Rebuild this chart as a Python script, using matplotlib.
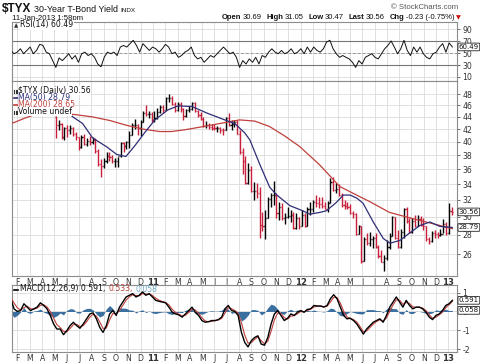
import numpy as np
import pandas as pd
import matplotlib
matplotlib.use('Agg')
import matplotlib.pyplot as plt
from matplotlib.collections import LineCollection
from matplotlib.lines import Line2D
from matplotlib.ticker import FixedLocator, FixedFormatter, NullLocator

# ---------------- data ----------------
week_start = '2010-05-07'          # weekly bars (Friday), $TYX x10
price_open_first = 44.0
price_high = [44.2, 43.4, 43.0, 42.4, 42.6, 42.6, 42.4, 41.6, 40.8, 41.0,
              41.2, 40.6, 40.9, 40.8, 40.6, 38.9, 37.4, 37.6, 38.4, 38.4,
              38.0, 37.6, 37.8, 39.9, 40.0, 40.1, 41.7, 43.0, 43.6, 42.9,
              43.4, 45.0, 46.0, 45.0, 44.8, 45.0, 45.5, 46.0, 46.1, 47.5,
              48.0, 47.6, 46.6, 46.6, 46.6, 45.6, 45.4, 45.9, 46.6, 46.6,
              45.2, 44.9, 44.0, 43.3, 43.0, 42.8, 42.9, 42.5, 42.4, 42.2,
              44.0, 44.6, 43.4, 43.4, 43.5, 41.8, 39.0, 37.9, 36.8, 36.4,
              34.3, 34.2, 33.6, 30.6, 30.8, 32.4, 32.8, 34.4, 32.8, 31.8,
              31.6, 30.4, 31.2, 30.8, 30.6, 30.4, 30.0, 30.8, 30.4, 31.2,
              31.8, 32.0, 32.6, 32.4, 32.3, 31.8, 31.9, 34.8, 35.0, 34.2,
              34.0, 32.8, 32.0, 31.8, 31.5, 30.7, 30.4, 29.1, 29.0, 27.8,
              28.2, 28.3, 27.9, 28.2, 26.9, 26.4, 25.9, 27.4, 28.2, 30.1,
              30.0, 28.5, 28.6, 31.0, 31.1, 29.8, 29.8, 30.2, 30.2, 30.1,
              29.8, 29.0, 27.8, 28.4, 28.5, 28.3, 28.6, 29.7, 29.4, 31.6, 31.1]
price_low = [40.6, 41.8, 40.4, 40.2, 40.8, 41.2, 40.9, 40.3, 38.8, 39.0,
             39.5, 39.4, 39.5, 39.6, 38.3, 36.4, 35.0, 36.2, 36.9, 37.2,
             36.9, 36.3, 36.3, 37.8, 38.5, 38.9, 39.1, 41.0, 42.0, 41.0,
             40.9, 43.2, 44.2, 43.8, 43.2, 43.2, 43.7, 44.6, 44.6, 45.1,
             46.6, 46.0, 44.8, 45.0, 44.8, 43.5, 44.0, 44.9, 45.2, 44.8,
             44.0, 43.5, 42.3, 42.2, 42.0, 41.9, 41.8, 41.6, 41.4, 41.0,
             41.8, 42.5, 41.9, 42.3, 41.2, 38.2, 35.4, 34.0, 34.0, 33.0,
             32.0, 32.2, 27.7, 28.4, 27.5, 29.8, 31.2, 31.4, 29.8, 29.6,
             29.6, 29.2, 29.8, 29.4, 28.6, 28.6, 28.6, 28.9, 28.8, 28.9,
             30.2, 30.6, 31.2, 31.0, 31.0, 30.9, 30.5, 31.6, 33.1, 32.8,
             32.5, 31.2, 30.9, 30.9, 30.3, 29.9, 28.0, 28.1, 25.1, 25.3,
             26.9, 26.8, 26.6, 26.6, 25.6, 25.2, 24.4, 25.4, 26.5, 27.9,
             27.5, 26.6, 26.6, 27.6, 29.3, 28.2, 28.2, 28.8, 28.9, 29.0,
             28.5, 27.3, 27.0, 27.2, 27.6, 27.7, 27.9, 28.2, 28.0, 28.1, 30.2]
price_close = [42.7, 42.8, 40.8, 42.2, 41.8, 42.2, 41.2, 40.7, 39.2, 40.8,
               39.7, 40.1, 39.9, 40.3, 38.6, 36.7, 36.5, 37.1, 37.9, 37.8,
               37.1, 37.1, 37.9, 39.8, 39.3, 39.9, 41.0, 42.7, 42.7, 42.2,
               43.2, 44.6, 44.5, 44.5, 43.4, 43.8, 44.8, 45.7, 45.1, 47.4,
               47.4, 46.2, 45.1, 46.2, 45.4, 44.1, 45.1, 45.4, 46.5, 45.0,
               44.4, 43.6, 42.5, 42.7, 42.4, 42.2, 42.1, 42.1, 41.9, 41.8,
               43.8, 42.7, 42.8, 43.2, 41.2, 38.5, 37.2, 34.2, 35.9, 33.1,
               33.1, 32.8, 29.1, 29.0, 29.9, 32.1, 32.6, 32.6, 30.4, 31.2,
               29.8, 30.0, 30.1, 30.2, 28.7, 29.9, 28.9, 30.2, 28.9, 30.9,
               30.9, 31.8, 31.6, 31.5, 31.3, 30.9, 31.6, 34.3, 33.3, 33.4,
               32.6, 31.4, 31.3, 31.2, 30.4, 30.3, 28.1, 28.9, 25.3, 27.5,
               27.1, 27.5, 27.6, 26.7, 25.8, 25.2, 25.6, 26.7, 27.9, 30.0,
               27.7, 26.7, 28.3, 30.9, 29.5, 28.3, 29.5, 29.0, 29.7, 29.1,
               28.9, 27.5, 27.3, 28.2, 28.1, 28.0, 28.1, 29.2, 28.2, 30.7, 30.56]

ma50_dates = ['2010-05-24', '2010-06-16', '2010-07-10', '2010-08-04', '2010-09-09',
              '2010-10-03', '2010-10-26', '2010-11-17', '2010-12-11', '2011-01-06',
              '2011-02-07', '2011-03-02', '2011-04-06', '2011-05-15', '2011-06-26',
              '2011-07-21', '2011-08-15', '2011-08-28', '2011-09-22', '2011-10-16',
              '2011-11-03', '2011-12-05', '2012-01-06', '2012-01-24', '2012-02-17',
              '2012-03-04', '2012-03-29', '2012-04-15', '2012-05-02', '2012-05-19',
              '2012-06-03', '2012-06-28', '2012-07-23', '2012-08-09', '2012-09-03',
              '2012-09-21', '2012-10-22', '2012-11-16', '2012-12-11', '2013-01-11']
ma50_vals = [45.5, 44.0, 42.9, 40.6, 39.2, 38.1, 37.8, 39.4, 41.4, 43.5,
             45.2, 45.9, 45.8, 44.6, 43.5, 42.9, 41.4, 40.3, 36.6, 33.6,
             32.6, 31.3, 30.7, 30.3, 30.5, 30.7, 31.7, 32.6, 32.6, 32.2,
             31.6, 29.4, 27.6, 27.1, 27.4, 28.0, 29.0, 29.4, 28.9, 28.79]

ma200_dates = ['2010-01-17', '2010-02-18', '2010-03-18', '2010-05-02', '2010-06-21',
               '2010-08-04', '2010-09-16', '2010-10-28', '2010-12-06', '2011-01-18',
               '2011-02-15', '2011-03-21', '2011-04-25', '2011-06-14', '2011-08-02',
               '2011-09-09', '2011-10-16', '2011-11-22', '2011-12-29', '2012-02-17',
               '2012-04-06', '2012-05-18', '2012-06-19', '2012-08-08', '2012-10-11',
               '2012-12-03', '2013-01-11']
ma200_vals = [42.9, 43.8, 44.5, 44.6, 44.4, 44.0, 43.4, 42.6, 42.0, 41.6,
              41.6, 41.9, 42.3, 42.9, 43.5, 43.3, 42.4, 40.9, 39.3, 36.6,
              33.7, 32.6, 31.8, 30.5, 29.7, 29.1, 28.65]

osc_start = '2010-01-15'
osc_end = '2013-01-11'
rsi_vals = [54.6, 49, 51.7, 57.4, 49, 54.6, 60.3, 49, 54.6, 64.9,
            63, 51.7, 49, 37.4, 26, 42, 37.4, 43, 49, 40,
            46, 34.6, 49, 51.7, 46, 49, 43, 31.7, 27, 43,
            51.7, 49, 51.7, 46, 60.3, 63, 60.3, 66, 71.7, 63,
            51.7, 66, 60.3, 54.6, 60.3, 57.4, 51.7, 57.4, 64.9, 60.3,
            49, 51.7, 43, 46, 51.7, 54.6, 60.3, 46, 40.3, 43,
            34.6, 40.3, 46, 43, 49, 54.6, 60.3, 54.6, 49, 51.7,
            43, 26, 37.4, 31.7, 40.3, 34.6, 43, 31.7, 46, 43,
            51.7, 57.4, 51.7, 49, 54.6, 49, 51.7, 57.4, 49, 51.7,
            57.4, 49, 60.3, 51.7, 60.3, 54.6, 51.7, 57.4, 68.9, 71.7,
            57.4, 49, 43, 46, 43, 40.3, 34.6, 26, 37.4, 31.7,
            43, 46, 49, 43, 40.3, 49, 57.4, 63, 70.6, 60.3,
            49, 57.4, 71.7, 54.6, 46, 60.3, 51.7, 60.3, 49, 43,
            40.3, 49, 51.7, 60.3, 66, 51.7, 67.2, 60.49]
macd_vals = [0.68, 0.14, 0.00, 0.05, 0.41, 0.23, 0.05, 0.14, 0.23, 0.46,
             0.32, 0.14, -0.21, -0.66, -0.93, -0.93, -1.23, -1.02, -0.75, -0.57,
             -0.75, -0.89, -0.66, -0.39, -0.13, -0.07, -0.39, -0.84, -1.11, -0.75,
             -0.13, 0.05, -0.21, 0.23, 0.50, 0.77, 0.86, 0.95, 0.77, 0.86,
             1.04, 0.86, 0.95, 0.77, 0.59, 0.54, 0.50, 0.46, 0.23, -0.04,
             -0.13, -0.18, -0.30, -0.13, 0.05, 0.23, -0.04, -0.21, -0.48, -0.57,
             -0.54, -0.48, -0.48, -0.43, -0.30, 0.14, 0.32, 0.05, 0.00, -0.21,
             -1.11, -1.64, -1.88, -1.55, -1.38, -1.29, -1.73, -1.79, -1.38, -0.66,
             -0.13, 0.05, -0.21, -0.48, -0.36, -0.13, -0.21, -0.04, 0.05, -0.04,
             0.11, 0.14, 0.32, 0.29, 0.29, 0.23, 0.32, 0.68, 0.89, 0.68,
             0.23, -0.21, -0.39, -0.36, -0.48, -0.66, -0.93, -1.20, -0.93, -0.75,
             -0.57, -0.48, -0.39, -0.57, -0.21, 0.23, 0.50, 0.77, 0.50, 0.23,
             0.59, 0.32, 0.14, 0.23, 0.23, 0.14, -0.04, -0.30, -0.43, -0.21,
             -0.13, 0.05, 0.32, 0.41, 0.591]
signal_vals = [0.75, 0.45, 0.20, 0.08, 0.20, 0.28, 0.15, 0.12, 0.18, 0.33,
               0.36, 0.24, 0.00, -0.35, -0.70, -0.85, -1.05, -1.08, -0.90, -0.70,
               -0.68, -0.80, -0.75, -0.55, -0.30, -0.15, -0.25, -0.55, -0.90, -0.88,
               -0.45, -0.10, -0.12, 0.05, 0.32, 0.60, 0.78, 0.88, 0.85, 0.83,
               0.95, 0.92, 0.92, 0.85, 0.70, 0.60, 0.53, 0.48, 0.35, 0.12,
               -0.05, -0.14, -0.24, -0.20, -0.05, 0.12, 0.08, -0.10, -0.33, -0.50,
               -0.55, -0.52, -0.49, -0.45, -0.37, -0.08, 0.20, 0.15, 0.05, -0.10,
               -0.60, -1.25, -1.68, -1.65, -1.48, -1.35, -1.55, -1.72, -1.58, -1.05,
               -0.45, -0.08, -0.10, -0.33, -0.40, -0.25, -0.22, -0.12, 0.00, -0.02,
               0.05, 0.12, 0.24, 0.28, 0.29, 0.26, 0.28, 0.50, 0.75, 0.74,
               0.45, 0.02, -0.28, -0.36, -0.43, -0.56, -0.80, -1.08, -1.03, -0.85,
               -0.67, -0.53, -0.44, -0.50, -0.35, 0.02, 0.35, 0.62, 0.60, 0.38,
               0.48, 0.42, 0.25, 0.22, 0.23, 0.18, 0.05, -0.18, -0.36, -0.30,
               -0.18, -0.04, 0.20, 0.36, 0.533]

month_letters = ['J', 'F', 'M', 'A', 'M', 'J', 'J', 'A', 'S', 'O', 'N', 'D']
price_ticks = [26, 28, 30, 32, 34, 36, 38, 40, 42, 44, 46, 48]
rsi_ticks = [10, 30, 50, 70, 90]
macd_ticks = [1, 0, -1, -2]

# ---------------- helpers ----------------
W_PX, H_PX = 480, 363


def mpos(d):
    d = pd.Timestamp(d)
    return (d.year - 2010) * 12 + (d.month - 1) + (d.day - 1) / d.days_in_month


XMIN, XMAX = 0.53, 36.70
UP_C, DN_C = '#000000', '#c8203c'
MA50_C, MA200_C = '#2e2e78', '#c0403c'
GRID_C = '#dadada'
FRAME_C = '#8c8c8c'
TXT_C = '#333333'
FS = 5.6

fig = plt.figure(figsize=(W_PX / 100, H_PX / 100), dpi=100)
fig.patch.set_facecolor('white')


def px_axes(top, bottom):
    L = 11.7 / W_PX
    Wd = (457.0 - 11.7) / W_PX
    return fig.add_axes([L, 1 - bottom / H_PX, Wd, (bottom - top) / H_PX])


ax_rsi = px_axes(22, 81)
ax_main = px_axes(81, 276)
ax_macd = px_axes(285.3, 352)

month_ticks = list(range(1, 37))
month_labels = [month_letters[k % 12] if k % 12 else '%02d' % (10 + k // 12) for k in month_ticks]

for ax in (ax_rsi, ax_main, ax_macd):
    ax.set_xlim(XMIN, XMAX)
    ax.set_axisbelow(True)
    ax.set_xticks(month_ticks)
    ax.grid(True, color=GRID_C, lw=0.6)
    for s in ax.spines.values():
        s.set_color(FRAME_C)
        s.set_linewidth(0.8)
    ax.yaxis.tick_right()
    ax.tick_params(axis='y', labelsize=FS, colors=TXT_C, length=2, width=0.5, pad=2)
    ax.tick_params(axis='x', length=0, labelsize=FS, colors=TXT_C, pad=1.2)

ax_rsi.set_xticklabels([])
for ax in (ax_main, ax_macd):
    ax.set_xticklabels(month_labels)
    for lab, k in zip(ax.get_xticklabels(), month_ticks):
        if k % 12 == 0:
            lab.set_fontweight('bold')
            lab.set_fontsize(FS + 0.6)

# ---------------- RSI ----------------
x_osc0, x_osc1 = mpos(osc_start), mpos(osc_end)
x_rsi = np.linspace(x_osc0, x_osc1, len(rsi_vals))
ax_rsi.set_ylim(3, 102.6)
ax_rsi.set_yticks(rsi_ticks)
ax_rsi.set_yticklabels([str(t) for t in rsi_ticks])
ax_rsi.axhline(70, color='#777777', lw=0.8, zorder=1)
ax_rsi.axhline(30, color='#777777', lw=0.8, zorder=1)
ax_rsi.axhline(50, color='#999999', lw=0.7, ls=(0, (3, 2)), zorder=1)
ax_rsi.plot(x_rsi, rsi_vals, color='#111111', lw=0.7, zorder=3)

# ---------------- price ----------------
wk = pd.date_range(week_start, periods=len(price_close), freq='W-FRI')
x_wk = np.array([mpos(d - pd.Timedelta(days=2)) for d in wk])
opens = [price_open_first] + price_close[:-1]
dx = 0.09
segs, cols = [], []
for x, o, h, l, c in zip(x_wk, opens, price_high, price_low, price_close):
    col = UP_C if c >= o else DN_C
    segs += [[(x, l), (x, h)], [(x - dx, o), (x, o)], [(x, c), (x + dx, c)]]
    cols += [col] * 3
ax_main.add_collection(LineCollection(segs, colors=cols, linewidths=1.0, zorder=3))
ax_main.plot([mpos(d) for d in ma200_dates], ma200_vals, color=MA200_C, lw=0.9, zorder=4)
ax_main.plot([mpos(d) for d in ma50_dates], ma50_vals, color=MA50_C, lw=0.9, zorder=4)
ax_main.set_yscale('log')
ax_main.set_ylim(23.9, 50.5)
ax_main.yaxis.set_major_locator(FixedLocator(price_ticks))
ax_main.yaxis.set_major_formatter(FixedFormatter([str(t) for t in price_ticks]))
ax_main.yaxis.set_minor_locator(NullLocator())

# ---------------- MACD ----------------
x_macd = np.linspace(x_osc0, x_osc1, len(macd_vals))
hist = np.array(macd_vals) - np.array(signal_vals)
ax_macd.fill_between(x_macd, 0, hist, color='#3b6fa0', lw=0, zorder=2)
ax_macd.plot(x_macd, signal_vals, color='#c0403c', lw=0.8, zorder=3)
ax_macd.plot(x_macd, macd_vals, color='#000000', lw=1.0, zorder=4)
ax_macd.set_ylim(-2.15, 1.39)
ax_macd.set_yticks(macd_ticks)
ax_macd.set_yticklabels(['1', '0', '-1', '-2'])

# ---------------- value boxes ----------------
VB = 5.0


def vbox(ax, v, s):
    ax.text(1.004, v, s, transform=ax.get_yaxis_transform(), ha='left', va='center',
            fontsize=VB, color='#111111', zorder=20, clip_on=False,
            bbox=dict(boxstyle='round,pad=0.12', fc='white', ec='#222222', lw=0.6))

vbox(ax_rsi, rsi_vals[-1], '%.2f' % rsi_vals[-1])
vbox(ax_main, price_close[-1], '%.2f' % price_close[-1])
vbox(ax_main, ma50_vals[-1], '%.2f' % ma50_vals[-1])
vbox(ax_macd, macd_vals[-1], '%.3f' % macd_vals[-1])
vbox(ax_macd, macd_vals[-1] - signal_vals[-1], '%.3f' % (macd_vals[-1] - signal_vals[-1]))

# ---------------- texts ----------------
fig.canvas.draw()
renderer = fig.canvas.get_renderer()


def rich(x_px, y_px, parts, **common):
    x = x_px
    for s, kw, gap in parts:
        opts = dict(common)
        opts.update(kw)
        t = fig.text(x / W_PX, 1 - y_px / H_PX, s, ha='left', va='baseline', **opts)
        bb = t.get_window_extent(renderer=renderer)
        x += bb.width + gap
    return x

HF = 'Liberation Sans'
rich(2, 12, [('$TYX', dict(fontsize=8.5, fontweight='bold'), 3),
             ('30-Year T-Bond Yield', dict(fontsize=6.4), 2),
             ('INDX', dict(fontsize=4.6), 0)], family=HF, color='#111111')
fig.text(12 / W_PX, 1 - 19.5 / H_PX, '11-Jan-2013 1:58pm', fontsize=5.6, family=HF,
         color='#111111', va='baseline')
fig.text(458 / W_PX, 1 - 9 / H_PX, '\u00a9 StockCharts.com', fontsize=5.6, family=HF,
         color='#555555', ha='right', va='baseline')
b = dict(fontweight='bold')
n = dict()
xe = rich(222, 19, [('Open', b, 1.5), ('30.69', n, 4.5), ('High', b, 1.5), ('31.05', n, 4.5),
                    ('Low', b, 1.5), ('30.47', n, 4.5), ('Last', b, 1.5), ('30.56', n, 4.5),
                    ('Chg', b, 1.5), ('-0.23 (-0.75%)', n, 2)],
          family=HF, fontsize=5.5, color='#111111')
fig.text(xe / W_PX, 1 - 19 / H_PX, '\u25bc', fontsize=4.5, color='#cc1111', va='baseline')

# legend of price panel
wb = dict(boxstyle='square,pad=0.05', fc='white', ec='none')
LF = 'DejaVu Sans'
fig.text(18 / W_PX, 1 - 93 / H_PX, '$TYX (Daily) 30.56', fontsize=FS, family=LF,
         color='#111111', va='baseline', bbox=wb)
fig.text(18 / W_PX, 1 - 100 / H_PX, 'MA(50) 28.79', fontsize=FS, family=LF,
         color=MA50_C, va='baseline', bbox=wb)
fig.text(18 / W_PX, 1 - 107 / H_PX, 'MA(200) 28.65', fontsize=FS, family=LF,
         color=MA200_C, va='baseline', bbox=wb)
fig.text(18 / W_PX, 1 - 114 / H_PX, 'Volume undef', fontsize=FS, family=LF,
         color='#111111', va='baseline', bbox=wb)
fig.add_artist(Line2D([13.5 / W_PX, 17.5 / W_PX], [1 - 98 / H_PX] * 2, color=MA50_C, lw=1.2))
fig.add_artist(Line2D([13.5 / W_PX, 17.5 / W_PX], [1 - 105 / H_PX] * 2, color=MA200_C, lw=1.2))
for yy in (91.5, 112.5):
    for xx in (14.2, 15.6, 17.0):
        fig.add_artist(Line2D([xx / W_PX] * 2, [1 - (yy + 1.5) / H_PX, 1 - (yy - 1.5) / H_PX],
                              color='#333333', lw=0.8))

# RSI legend
fig.text(20 / W_PX, 1 - 27.5 / H_PX, 'RSI(14) 60.49', fontsize=FS, family=LF,
         color='#111111', va='baseline', bbox=wb)
fig.text(13.5 / W_PX, 1 - 27.5 / H_PX, '\u25b2', fontsize=4, color='#333333', va='baseline')

# MACD legend
fig.add_artist(Line2D([13.5 / W_PX, 18 / W_PX], [1 - 289.5 / H_PX] * 2, color='#000000', lw=1.2))
rich(20.5, 291.5, [('MACD(12,26,9) 0.591,', dict(color='#111111'), 2.5),
                   ('0.533,', dict(color='#b0403c'), 2.5),
                   ('0.058', dict(color='#6fa8c8'), 0)],
     family=LF, fontsize=FS)

fig.savefig('out.png', dpi=100, facecolor='white')
